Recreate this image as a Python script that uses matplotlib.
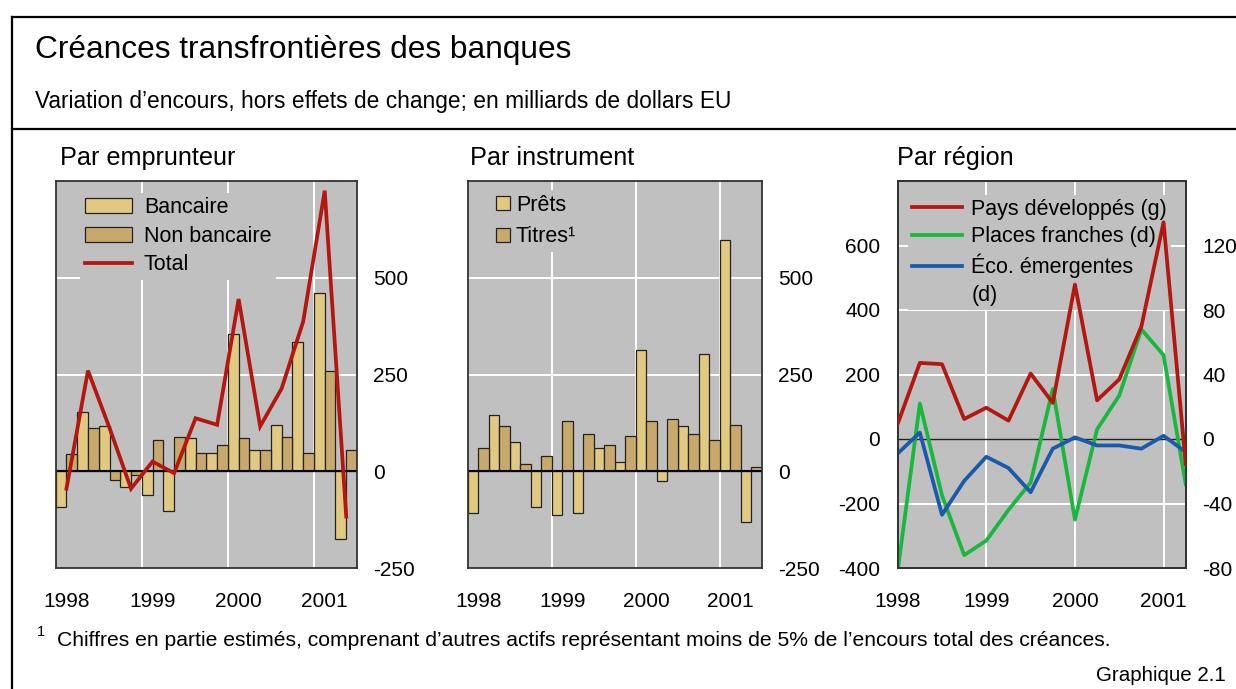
import matplotlib
matplotlib.use("Agg")
import matplotlib.pyplot as plt
from matplotlib.lines import Line2D
from matplotlib.patches import Patch
import numpy as np

plt.rcParams['font.family'] = ['Liberation Sans', 'DejaVu Sans']

# ---------------- data ----------------
quarters = np.arange(14) * 0.25 + 1998.0   # 1998 Q1 ... 2001 Q2
years = [1998, 1999, 2000, 2001]
year_labels = ['1998', '1999', '2000', '2001']

bancaire = [-92, 152, 116, -41, -62, -102, 85, 48, 354, 55, 120, 334, 461, -174]
non_bancaire = [44, 112, -22, -10, 80, 89, 48, 69, 85, 55, 89, 48, 258, 55]
total = [-45, 260, 112, -45, 25, -5, 137, 120, 445, 116, 214, 387, 725, -117]

prets = [-107, 146, 75, -92, -113, -107, 61, 25, 313, -25, 116, 303, 597, -131]
titres = [61, 116, 19, 40, 131, 95, 69, 91, 131, 136, 95, 81, 120, 10]

pays_dev = [47, 236, 232, 62, 97, 57, 203, 112, 479, 120, 185, 349, 672, -78]
places_fr = [-82, 22, -35, -72, -63, -44, -27, 31, -50, 6, 27, 68, 52, -28]
eco_emer = [-9, 4, -47, -26, -11, -18, -33, -6, 1, -4, -4, -6, 2, -8]

# ---------------- style ----------------
BG = '#c0c0c0'
LIGHT = '#e2c982'
DARK = '#c9a96b'
RED = '#b3170f'
GREEN = '#17b83c'
BLUE = '#1a5aab'
FS_TICK = 15
FS_LEG = 15.5

W, H = 1236, 689
fig = plt.figure(figsize=(W / 100, H / 100), dpi=100)


def box(x0, x1, ytop, ybot):
    return [x0 / W, 1 - ybot / H, (x1 - x0) / W, (ybot - ytop) / H]


def style_spines(ax):
    for s in ax.spines.values():
        s.set_color('#333333')
        s.set_linewidth(1.3)


def style_axes(ax, ylim, yticks, grid_y, xlim, xgrid, xtick_pos, side='right', pad=11.5):
    ax.set_facecolor(BG)
    ax.set_xlim(*xlim)
    ax.set_ylim(*ylim)
    style_spines(ax)
    for g in grid_y:
        ax.axhline(g, color='white', lw=1.4, zorder=0.5)
    for g in xgrid:
        ax.axvline(g, color='white', lw=1.4, zorder=0.5)
    ax.set_xticks(xtick_pos)
    ax.set_xticklabels(year_labels)
    ax.set_yticks(yticks)
    ax.set_yticklabels([str(v) for v in yticks])
    ax.tick_params(axis='x', length=0, pad=17, labelsize=FS_TICK)
    if side == 'right':
        ax.yaxis.tick_right()
        ax.tick_params(axis='y', length=0, pad=pad, labelsize=FS_TICK)
        for lab in ax.get_yticklabels():
            lab.set_horizontalalignment('left')
    else:
        ax.tick_params(axis='y', length=0, pad=pad, labelsize=FS_TICK)


# ---------------- panel 1: Par emprunteur ----------------
ax1 = fig.add_axes(box(55.7, 357, 181, 568))
style_axes(ax1, (-250, 750), [-250, 0, 250, 500], [250, 500], (1998, 2001.5),
           [1999, 2000, 2001], [y + 0.125 for y in years])
ax1.bar(quarters + 0.0625, bancaire, width=0.125, color=LIGHT, edgecolor='#222222', lw=0.9, zorder=2)
ax1.bar(quarters + 0.1875, non_bancaire, width=0.125, color=DARK, edgecolor='#222222', lw=0.9, zorder=2)
ax1.axhline(0, color='black', lw=1.5, zorder=2.5)
ax1.plot(quarters + 0.125, total, color=RED, lw=2.7, zorder=5, solid_joinstyle='miter')
h1 = [Patch(facecolor=LIGHT, edgecolor='#222222', lw=0.9),
      Patch(facecolor=DARK, edgecolor='#222222', lw=0.9),
      Line2D([], [], color=RED, lw=2.7)]
leg1 = ax1.legend(h1, ['Bancaire', 'Non bancaire', 'Total'], loc='upper left',
                  bbox_to_anchor=(0.082, 0.97), fontsize=FS_LEG, frameon=True,
                  facecolor=BG, edgecolor='none', framealpha=1, fancybox=False,
                  borderpad=0.2, borderaxespad=0, handlelength=2.2, handleheight=0.7,
                  handletextpad=0.55, labelspacing=0.36)
leg1.set_zorder(4)

# ---------------- panel 2: Par instrument ----------------
ax2 = fig.add_axes(box(467.7, 761.7, 181, 568))
style_axes(ax2, (-250, 750), [-250, 0, 250, 500], [250, 500], (1998, 2001.5),
           [1999, 2000, 2001], [y + 0.125 for y in years])
ax2.bar(quarters + 0.0625, prets, width=0.125, color=LIGHT, edgecolor='#222222', lw=0.9, zorder=2)
ax2.bar(quarters + 0.1875, titres, width=0.125, color=DARK, edgecolor='#222222', lw=0.9, zorder=2)
ax2.axhline(0, color='black', lw=1.5, zorder=2.5)
h2 = [Patch(facecolor=LIGHT, edgecolor='#222222', lw=0.9),
      Patch(facecolor=DARK, edgecolor='#222222', lw=0.9)]
leg2 = ax2.legend(h2, ['Prêts', 'Titres¹'], loc='upper left',
                  bbox_to_anchor=(0.08, 0.976), fontsize=FS_LEG, frameon=True,
                  facecolor=BG, edgecolor='none', framealpha=1, fancybox=False,
                  borderpad=0.2, borderaxespad=0, handlelength=0.65, handleheight=0.65,
                  handletextpad=0.3, labelspacing=0.5)
leg2.set_zorder(4)

# ---------------- panel 3: Par région ----------------
# background axis (right scale, drawn first): gray face, grid, green & blue lines, legend
ax3b = fig.add_axes(box(897.7, 1185.7, 181, 568))
ax3b.set_facecolor(BG)
ax3b.set_xlim(1998, 2001.25)
ax3b.set_ylim(-80, 160)
for g in [-40, 40, 80, 120]:
    ax3b.axhline(g, color='white', lw=1.4, zorder=0.5)
for g in [1999, 2000, 2001]:
    ax3b.axvline(g, color='white', lw=1.4, zorder=0.5)
ax3b.axhline(0, color='#222222', lw=1.0, zorder=1)
ax3b.yaxis.tick_right()
ax3b.set_yticks([-80, -40, 0, 40, 80, 120])
ax3b.set_yticklabels(['-80', '-40', '0', '40', '80', '120'])
ax3b.tick_params(axis='y', length=0, pad=12, labelsize=FS_TICK)
ax3b.set_xticks([])
style_spines(ax3b)
ax3b.plot(quarters, places_fr, color=GREEN, lw=2.7, zorder=3)
ax3b.plot(quarters, eco_emer, color=BLUE, lw=2.7, zorder=3)
h3 = [Line2D([], [], color=RED, lw=2.7), Line2D([], [], color=GREEN, lw=2.7),
      Line2D([], [], color=BLUE, lw=2.7), Line2D([], [], color='none', lw=0)]
leg3 = ax3b.legend(h3, ['Pays développés (g)', 'Places franches (d)', 'Éco. émergentes', '(d)'],
                   loc='upper left', bbox_to_anchor=(0.035, 0.965), fontsize=FS_LEG,
                   frameon=True, facecolor=BG, edgecolor='none', framealpha=1, fancybox=False,
                   borderpad=0.2, borderaxespad=0, handlelength=2.3, handletextpad=0.45,
                   labelspacing=0.3)
leg3.set_zorder(4)

# foreground axis (left scale): red line
ax3 = fig.add_axes(box(897.7, 1185.7, 181, 568))
ax3.patch.set_visible(False)
ax3.set_xlim(1998, 2001.25)
ax3.set_ylim(-400, 800)
style_spines(ax3)
ax3.set_xticks(years)
ax3.set_xticklabels(year_labels)
ax3.set_yticks([-400, -200, 0, 200, 400, 600])
ax3.set_yticklabels(['-400', '-200', '0', '200', '400', '600'])
ax3.tick_params(axis='x', length=0, pad=17, labelsize=FS_TICK)
ax3.tick_params(axis='y', length=0, pad=12.5, labelsize=FS_TICK)
ax3.plot(quarters, pays_dev, color=RED, lw=2.7, zorder=3)

# ---------------- texts ----------------
fig.text(35 / W, 1 - 58 / H, 'Créances transfrontières des banques', fontsize=22.8, va='baseline')
fig.text(35 / W, 1 - 108 / H, 'Variation d’encours, hors effets de change; en milliards de dollars EU',
         fontsize=16.4, va='baseline')
fig.text(60 / W, 1 - 165 / H, 'Par emprunteur', fontsize=18.2, va='baseline')
fig.text(470 / W, 1 - 165 / H, 'Par instrument', fontsize=18.2, va='baseline')
fig.text(897 / W, 1 - 165 / H, 'Par région', fontsize=18.2, va='baseline')
fig.text(37 / W, 1 - 632 / H, '1', fontsize=10.5, va='center')
fig.text(57 / W, 1 - 646 / H,
         'Chiffres en partie estimés, comprenant d’autres actifs représentant moins de 5% de l’encours total des créances.',
         fontsize=15.2, va='baseline')
fig.text(1226 / W, 1 - 681 / H, 'Graphique 2.1', fontsize=14.8, va='baseline', ha='right')

# frame lines
lw_f = 1.6
fig.add_artist(Line2D([12.3 / W, 1.0], [1 - 16.7 / H, 1 - 16.7 / H], color='black', lw=lw_f))
fig.add_artist(Line2D([12.3 / W, 1.0], [1 - 129 / H, 1 - 129 / H], color='black', lw=lw_f))
fig.add_artist(Line2D([12.3 / W, 12.3 / W], [1 - 16.7 / H, 0], color='black', lw=lw_f))

fig.savefig('out.png', dpi=100, facecolor='white')
